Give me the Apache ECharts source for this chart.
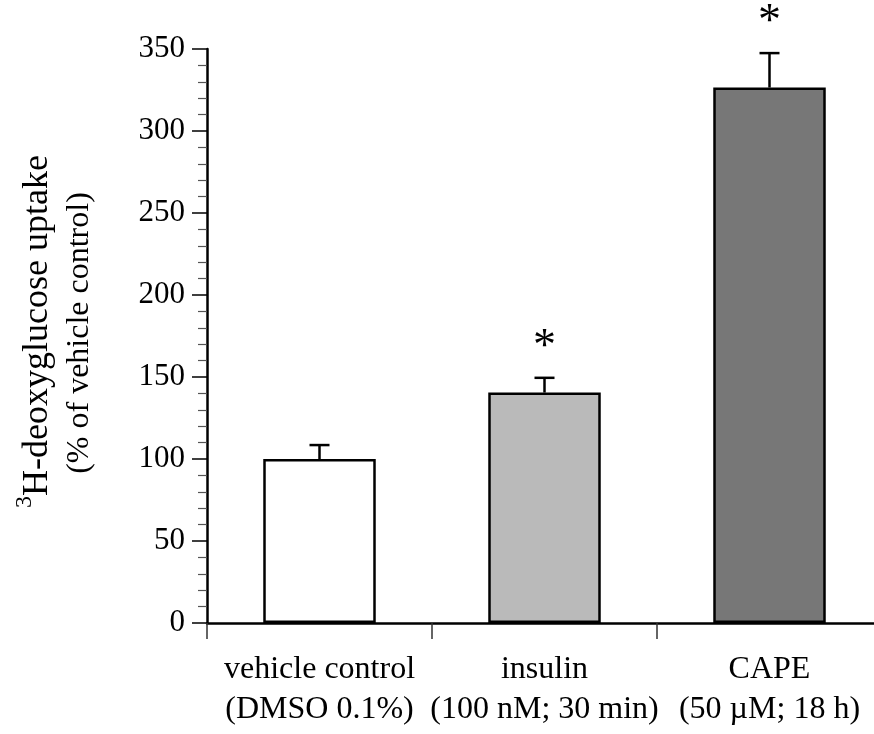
<!DOCTYPE html>
<html>
<head>
<meta charset="utf-8">
<script src="https://cdn.jsdelivr.net/npm/echarts@6/dist/echarts.min.js"></script>
<style>
html,body{margin:0;padding:0;background:#fff;overflow:hidden;width:874px;height:734px;}
#chart{width:890px;height:734px;}
</style>
</head>
<body>
<div id="chart"></div>
<script>
// ---- data ----
var categories = ['vehicle control', 'insulin', 'CAPE'];
var conditions = ['(DMSO 0.1%)', '(100 nM; 30 min)', '(50 \u00B5M; 18 h)'];
var uptake = [100, 140.5, 326.5];
var sem = [8.5, 9, 21];
var significant = [false, true, true];
var yTicks = [0, 50, 100, 150, 200, 250, 300, 350];
var barColors = ['#ffffff', '#bababa', '#777777'];
var yTitleMain = 'H-deoxyglucose uptake';
var yTitleSup = '3';
var yTitleSub = '(% of vehicle control)';

var FONT = '"Liberation Serif", "Times New Roman", serif';

var chart = echarts.init(document.getElementById('chart'), null, {renderer: 'canvas'});

var labelText = categories.map(function (c, i) { return c + '\n' + conditions[i]; });

var option = {
  animation: false,
  backgroundColor: '#ffffff',
  grid: {left: 207, top: 49, height: 574, width: 675, containLabel: false},
  xAxis: {
    type: 'category',
    data: labelText,
    boundaryGap: true,
    axisLine: {show: true, lineStyle: {color: '#000', width: 2.5}},
    axisTick: {show: true, length: 16, inside: false, lineStyle: {color: '#333', width: 1.5}},
    axisLabel: {
      show: true, interval: 0, margin: 27,
      fontFamily: FONT, fontSize: 32, color: '#000', lineHeight: 40
    }
  },
  yAxis: {
    type: 'value',
    min: yTicks[0],
    max: yTicks[yTicks.length - 1],
    interval: 50,
    splitLine: {show: false},
    axisLine: {show: true, lineStyle: {color: '#000', width: 2.5}},
    axisTick: {show: true, length: 15, inside: false, lineStyle: {color: '#000', width: 1.5}},
    minorTick: {show: true, splitNumber: 5, length: 9, lineStyle: {color: '#555', width: 1.2}},
    axisLabel: {margin: 22, fontFamily: FONT, fontSize: 31, color: '#000'}
  },
  graphic: [
    {
      type: 'text', x: 38, y: 496, rotation: Math.PI / 2,
      style: {text: yTitleMain, font: '36px ' + FONT, fill: '#000', align: 'left', verticalAlign: 'middle'}
    },
    {
      type: 'text', x: 25, y: 496, rotation: Math.PI / 2,
      style: {text: yTitleSup, font: '24px ' + FONT, fill: '#000', align: 'right', verticalAlign: 'middle'}
    },
    {
      type: 'text', x: 80, y: 333, rotation: Math.PI / 2,
      style: {text: yTitleSub, font: '32px ' + FONT, fill: '#000', align: 'center', verticalAlign: 'middle'}
    }
  ],
  series: [
    {
      type: 'bar',
      barWidth: '50%',
      data: uptake.map(function (v, i) {
        return {value: v, itemStyle: {color: barColors[i]}};
      }),
      itemStyle: {borderColor: '#000', borderWidth: 2.5},
      z: 2
    },
    {
      type: 'custom',
      z: 3,
      data: uptake.map(function (v, i) { return [i, v, v + sem[i], significant[i] ? 1 : 0]; }),
      renderItem: function (params, api) {
        var x = api.value(0);
        var top = api.coord([x, api.value(1)]);
        var hi = api.coord([x, api.value(2)]);
        var cap = 10;
        var children = [
          {type: 'line', shape: {x1: top[0], y1: top[1], x2: hi[0], y2: hi[1]},
           style: {stroke: '#000', lineWidth: 2.5}},
          {type: 'line', shape: {x1: hi[0] - cap, y1: hi[1], x2: hi[0] + cap, y2: hi[1]},
           style: {stroke: '#000', lineWidth: 2.5}}
        ];
        if (api.value(3)) {
          children.push({
            type: 'text',
            style: {
              text: '*', x: hi[0], y: hi[1] - 30,
              align: 'center', verticalAlign: 'middle',
              font: '46px ' + FONT, fill: '#000'
            }
          });
        }
        return {type: 'group', children: children};
      }
    }
  ]
};
chart.setOption(option);
</script>
</body>
</html>
